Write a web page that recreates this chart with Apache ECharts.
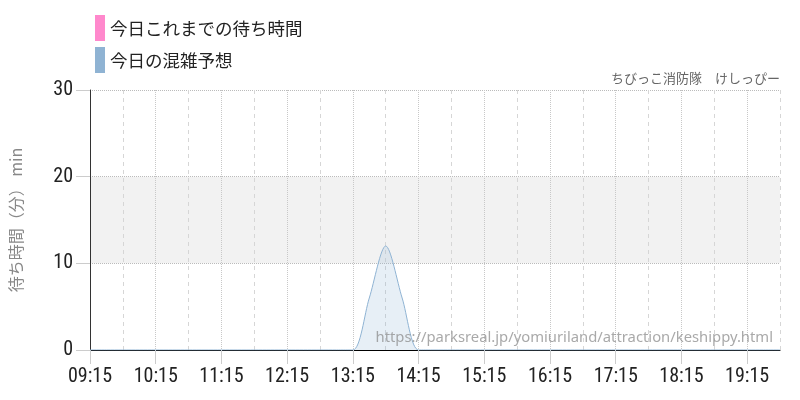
<!DOCTYPE html>
<html>
<head>
<meta charset="utf-8">
<script src="https://cdn.jsdelivr.net/npm/echarts@6/dist/echarts.min.js"></script>
<style>html,body{margin:0;padding:0;background:#fff}#c{width:800px;height:400px}</style>
</head>
<body>
<div id="c"></div>
<script>
var times = ['09:15','09:30','09:45','10:00','10:15','10:30','10:45','11:00','11:15','11:30','11:45','12:00','12:15','12:30','12:45','13:00','13:15','13:30','13:45','14:00','14:15','14:30','14:45','15:00','15:15','15:30','15:45','16:00','16:15','16:30','16:45','17:00','17:15','17:30','17:45','18:00','18:15','18:30','18:45','19:00','19:15','19:30','19:45'];
var actualWait = [];
var predicted = [0,0,0,0,0,0,0,0,0,0,0,0,0,0,0,0,0,6,12,6,0,0,0,0,0,0,0,0,0,0,0,0,0,0,0,0,0,0,0,0,0,0,0];
var yTicks = [0,10,20,30];
var seriesNames = ['今日これまでの待ち時間','今日の混雑予想'];
var attractionName = 'ちびっこ消防隊　けしっぴー';
var sourceUrl = 'https://parksreal.jp/yomiuriland/attraction/keshippy.html';
var yAxisName = '待ち時間（分） min';

var numFont = '"Liberation Sans Narrow", "Roboto Condensed", "DejaVu Sans Condensed", sans-serif';
var jpFont = '"Noto Sans CJK JP", "Noto Sans", sans-serif';

var chart = echarts.init(document.getElementById('c'), null, {renderer:'canvas'});
chart.setOption({
  animation: false,
  color: ['#ff88cc', '#8fb3d3'],
  textStyle: {fontFamily: jpFont},
  legend: {
    orient: 'vertical', left: 95, top: 15, padding: 0,
    icon: 'rect', itemWidth: 10, itemHeight: 26, itemGap: 6,
    textStyle: {fontSize: 17.5, color: '#222', fontFamily: jpFont},
    data: seriesNames
  },
  graphic: [
    {type: 'text', right: 20, top: 72, style: {text: attractionName, fontSize: 13, fill: '#666', fontFamily: jpFont}},
    {type: 'text', right: 27, top: 330, z: 100, style: {text: sourceUrl, fontSize: 14.8, fill: 'rgba(140,140,140,0.75)', fontFamily: '"Noto Sans", sans-serif'}}
  ],
  grid: {left: 90, right: 20, top: 90, bottom: 50, containLabel: false, outerBoundsMode: 'none'},
  xAxis: [{
    type: 'category', data: times, boundaryGap: false,
    axisLine: {show: true, onZero: false, lineStyle: {color: '#000', width: 1}},
    axisTick: {show: true, length: 14, interval: function(i){return i % 4 === 0;}, lineStyle: {color: '#ccc'}},
    axisLabel: {interval: function(i){return i % 4 === 0;}, fontSize: 20, color: '#222', margin: 17, fontFamily: numFont},
    splitLine: {show: true, interval: function(i){return i % 4 === 0;}, lineStyle: {color: '#c8c8c8', type: 'dotted', width: 1}}
  }, {
    type: 'category', data: times, boundaryGap: false, position: 'bottom',
    axisLine: {show: false}, axisTick: {show: false}, axisLabel: {show: false},
    splitLine: {show: true, interval: function(i){return i % 4 === 2;}, lineStyle: {color: '#d6d6d6', type: [4, 4], width: 1}}
  }],
  yAxis: {
    type: 'value', min: 0, max: 30, interval: 10,
    name: yAxisName, nameLocation: 'middle', nameGap: 66, nameRotate: 90,
    nameTextStyle: {fontSize: 16, color: '#888', fontFamily: jpFont},
    axisLine: {show: true, lineStyle: {color: '#333'}},
    axisTick: {show: true, length: 14, lineStyle: {color: '#ccc'}},
    axisLabel: {fontSize: 20, color: '#222', margin: 17, fontFamily: numFont,
      formatter: function(v){ return yTicks.indexOf(v) >= 0 ? String(v) : ''; }},
    splitLine: {show: true, lineStyle: {color: '#bbb', type: 'dotted'}},
    splitArea: {show: true, areaStyle: {color: ['rgba(0,0,0,0)', 'rgba(0,0,0,0.05)', 'rgba(0,0,0,0)']}}
  },
  series: [{
    name: seriesNames[0], type: 'line', data: actualWait, showSymbol: false,
    lineStyle: {width: 1}
  }, {
    name: seriesNames[1], type: 'line', data: predicted, smooth: 0.3, showSymbol: false,
    lineStyle: {width: 1, color: '#8fb3d3'},
    areaStyle: {color: 'rgba(143,180,211,0.3)'}
  }]
});
</script>
</body>
</html>
